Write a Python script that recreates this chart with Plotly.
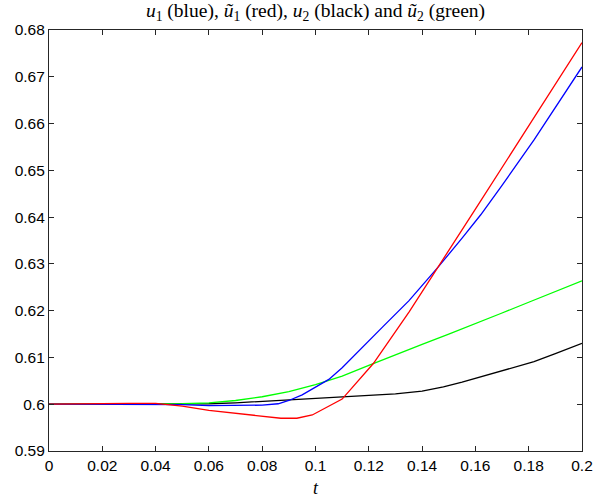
import plotly.graph_objects as go

# u1 (blue)
t_u1 = [0, 0.04, 0.05, 0.06, 0.07, 0.08, 0.086, 0.09, 0.095, 0.1, 0.105, 0.11,
        0.115, 0.12, 0.1255, 0.135, 0.146, 0.155, 0.162, 0.17, 0.182, 0.2]
u1 = [0.6, 0.6, 0.5999, 0.5997, 0.5997, 0.5998, 0.6001, 0.6008, 0.6020, 0.6036,
      0.6053, 0.6078, 0.6106, 0.6134, 0.6167, 0.6221, 0.6293, 0.6355, 0.6405,
      0.6468, 0.6565, 0.6721]

# tilde u1 (red)
t_u1t = [0, 0.01, 0.02, 0.03, 0.04, 0.045, 0.05, 0.06, 0.07, 0.08, 0.087, 0.093,
         0.0988, 0.110, 0.1217, 0.1352, 0.1457, 0.16, 0.18, 0.2]
u1t = [0.6, 0.6001, 0.6002, 0.6002, 0.6002, 0.5999, 0.5996, 0.5987, 0.5981,
       0.5974, 0.5970, 0.5970, 0.5977, 0.6011, 0.6087, 0.6198, 0.6290, 0.6417,
       0.6595, 0.6773]

# u2 (black)
t_u2 = [0, 0.05, 0.06, 0.07, 0.08, 0.09, 0.1, 0.11, 0.12, 0.13, 0.14, 0.148,
        0.155, 0.162, 0.172, 0.182, 0.19, 0.2]
u2 = [0.6, 0.6, 0.6001, 0.6003, 0.6006, 0.6009, 0.6012, 0.6015, 0.6018, 0.6022,
      0.6028, 0.6037, 0.6047, 0.6058, 0.6074, 0.6091, 0.6108, 0.6130]

# tilde u2 (green)
t_u2t = [0, 0.04, 0.05, 0.06, 0.07, 0.08, 0.09, 0.1, 0.11, 0.12, 0.13, 0.14,
         0.15, 0.16, 0.17, 0.18, 0.19, 0.2]
u2t = [0.6, 0.6, 0.6001, 0.6003, 0.6008, 0.6016, 0.6027, 0.6042, 0.6060, 0.6083,
       0.6106, 0.6128, 0.6150, 0.6172, 0.6195, 0.6218, 0.6241, 0.6264]

x_ticks = [0, 0.02, 0.04, 0.06, 0.08, 0.1, 0.12, 0.14, 0.16, 0.18, 0.2]
x_labels = ["0", "0.02", "0.04", "0.06", "0.08", "0.1", "0.12", "0.14", "0.16", "0.18", "0.2"]
y_ticks = [0.59, 0.6, 0.61, 0.62, 0.63, 0.64, 0.65, 0.66, 0.67, 0.68]
y_labels = ["0.59", "0.6", "0.61", "0.62", "0.63", "0.64", "0.65", "0.66", "0.67", "0.68"]

fig = go.Figure()
lw = 1.3
fig.add_trace(go.Scatter(x=t_u2, y=u2, mode="lines", line=dict(color="#000000", width=lw)))
fig.add_trace(go.Scatter(x=t_u2t, y=u2t, mode="lines", line=dict(color="#00ff00", width=lw)))
fig.add_trace(go.Scatter(x=t_u1, y=u1, mode="lines", line=dict(color="#0000ff", width=lw)))
fig.add_trace(go.Scatter(x=t_u1t, y=u1t, mode="lines", line=dict(color="#ff0000", width=lw)))

axis_common = dict(
    showgrid=False, zeroline=False, showline=True, linecolor="#262626", linewidth=1.2,
    mirror="ticks", ticks="inside", ticklen=5, tickwidth=1, tickcolor="#262626",
    automargin=False,
    tickfont=dict(family="Liberation Sans, Arial, sans-serif", size=15.5, color="#000000"),
)

fig.update_layout(
    width=596, height=498,
    margin=dict(l=49, r=14, t=30, b=47),
    paper_bgcolor="white", plot_bgcolor="white",
    showlegend=False,
    title=dict(
        text="<i>u</i><sub>1</sub> (blue), <i>ũ</i><sub>1</sub> (red), <i>u</i><sub>2</sub> (black) and <i>ũ</i><sub>2</sub> (green)",
        font=dict(family="Liberation Serif, Times New Roman, serif", size=19.5, color="#000000"),
        x=0.5, xref="paper", xanchor="center", y=0.993, yref="container", yanchor="top",
    ),
    xaxis=dict(range=[0, 0.2], tickvals=x_ticks, ticktext=x_labels,
               title=dict(text="<i>t</i>", standoff=8,
                          font=dict(family="Liberation Serif, Times New Roman, serif", size=18, color="#000000")),
               **axis_common),
    yaxis=dict(range=[0.59, 0.68], tickvals=y_ticks, ticktext=y_labels, **axis_common),
)

fig.write_html("out.html")
